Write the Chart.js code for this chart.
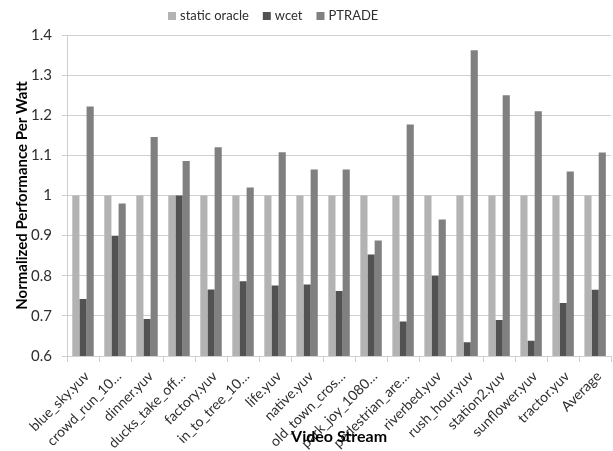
<!DOCTYPE html>
<html>
<head>
<meta charset="utf-8">
<script src="https://cdn.jsdelivr.net/npm/chart.js@4/dist/chart.umd.min.js"></script>
<style>
  html, body { margin: 0; padding: 0; background: #fff; }
  #wrap { width: 613px; height: 451px; position: relative; }
</style>
</head>
<body>
<div id="wrap"><canvas id="c" width="613" height="451"></canvas></div>
<script>
// Video streams on the x axis
const categories = [
  "blue_sky.yuv", "crowd_run_10…", "dinner.yuv", "ducks_take_off…", "factory.yuv",
  "in_to_tree_10…", "life.yuv", "native.yuv", "old_town_cros…", "park_joy_1080…",
  "pedestrian_are…", "riverbed.yuv", "rush_hour.yuv", "station2.yuv", "sunflower.yuv",
  "tractor.yuv", "Average"
];

// Normalized performance per watt for each policy
const staticOracle = [1, 1, 1, 1, 1, 1, 1, 1, 1, 1, 1, 1, 1, 1, 1, 1, 1];
const wcet = [0.742, 0.899, 0.692, 1.0, 0.766, 0.786, 0.776, 0.778, 0.762, 0.853,
              0.686, 0.800, 0.634, 0.690, 0.638, 0.732, 0.765];
const ptrade = [1.222, 0.980, 1.146, 1.086, 1.120, 1.020, 1.108, 1.065, 1.065, 0.888,
                1.177, 0.940, 1.362, 1.250, 1.210, 1.060, 1.107];

const yTicks = [0.6, 0.7, 0.8, 0.9, 1, 1.1, 1.2, 1.3, 1.4];

const seriesNames = ["static oracle", "wcet", "PTRADE"];
const seriesColors = ["#b3b3b3", "#525252", "#808080"];

const FONT = "Lato, 'Open Sans', sans-serif";
const TEXT = "#2e2e2e";
const GRID = "#cfcfcf";

// Legend row and axis titles drawn on top of the chart
const annotations = {
  id: "annotations",
  afterDraw(chart) {
    const ctx = chart.ctx;
    const area = chart.chartArea;
    ctx.save();
    // legend
    ctx.font = "13px " + FONT;
    ctx.textBaseline = "middle";
    ctx.textAlign = "left";
    let x = 168;
    const yMid = 16;
    chart.data.datasets.forEach((ds) => {
      ctx.fillStyle = ds.backgroundColor;
      ctx.fillRect(x, yMid - 4, 8, 8);
      x += 12;
      ctx.fillStyle = TEXT;
      ctx.fillText(ds.label, x, yMid);
      x += ctx.measureText(ds.label).width + 14;
    });
    // y axis title
    ctx.font = "bold 15px " + FONT;
    ctx.fillStyle = "#000";
    ctx.textAlign = "center";
    ctx.translate(22, (area.top + area.bottom) / 2);
    ctx.rotate(-Math.PI / 2);
    ctx.fillText("Normalized Performance Per Watt", 0, 0);
    ctx.restore();
    // x axis title
    ctx.save();
    ctx.font = "bold 16px " + FONT;
    ctx.fillStyle = "#000";
    ctx.textAlign = "center";
    ctx.textBaseline = "middle";
    ctx.fillText("Video Stream", (area.left + area.right) / 2, 437);
    ctx.restore();
  }
};

new Chart(document.getElementById("c"), {
  type: "bar",
  data: {
    labels: categories,
    datasets: [
      { label: seriesNames[0], data: staticOracle, backgroundColor: seriesColors[0] },
      { label: seriesNames[1], data: wcet, backgroundColor: seriesColors[1] },
      { label: seriesNames[2], data: ptrade, backgroundColor: seriesColors[2] }
    ]
  },
  options: {
    responsive: false,
    animation: false,
    devicePixelRatio: 1,
    layout: { padding: { top: 35, left: 0, right: 0, bottom: 0 } },
    datasets: { bar: { barPercentage: 1.0, categoryPercentage: 0.67, borderWidth: 0 } },
    plugins: {
      legend: { display: false },
      tooltip: { enabled: false }
    },
    scales: {
      x: {
        grid: { display: true, drawOnChartArea: false, drawTicks: true, tickLength: 6, color: GRID, offset: true },
        border: { display: true, color: GRID, width: 1 },
        ticks: {
          color: TEXT,
          font: { family: FONT, size: 14 },
          minRotation: 45,
          maxRotation: 45,
          autoSkip: false,
          padding: 6,
          labelOffset: 4
        },
        afterFit(scale) { scale.height = 95; }
      },
      y: {
        min: 0.6,
        max: 1.4,
        afterBuildTicks(scale) { scale.ticks = yTicks.map(v => ({ value: v })); },
        grid: { color: GRID, drawTicks: true, tickLength: 5 },
        border: { display: true, color: GRID, width: 1 },
        ticks: {
          color: TEXT,
          font: { family: FONT, size: 15 },
          padding: 10,
          callback: (v) => String(Math.round(v * 10) / 10)
        },
        afterFit(scale) { scale.width = 67; }
      }
    }
  },
  plugins: [annotations]
});
</script>
</body>
</html>
